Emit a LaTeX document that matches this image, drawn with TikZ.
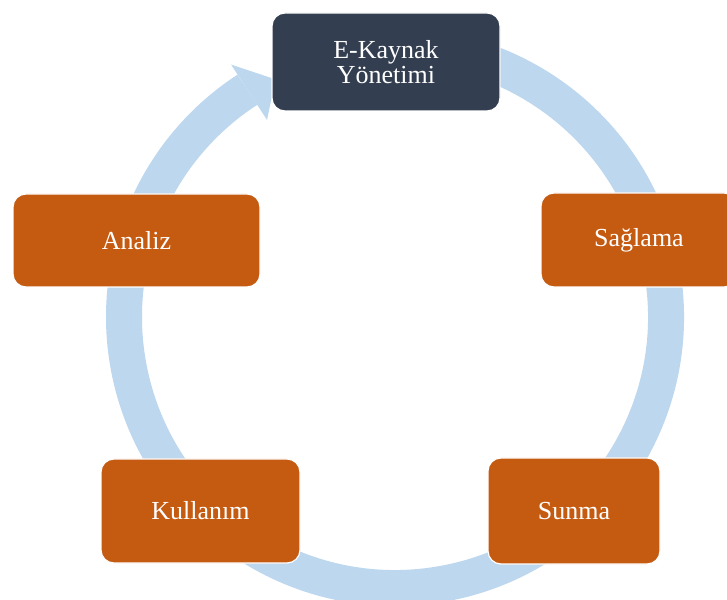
\documentclass[tikz,border=0pt]{standalone}
\usepackage{fontspec}
\setmainfont{Liberation Serif}
\definecolor{halka}{HTML}{BDD7EE}
\definecolor{turuncu}{HTML}{C55A11}
\definecolor{lacivert}{HTML}{333F50}
\begin{document}
\begin{tikzpicture}[
        x=1pt,
        y=1pt,
        line join=round,
        % stiller
        ring/.style={draw=halka, line width=36pt},
        ringhead/.style={fill=halka},
        kutu/.style={rectangle, rounded corners=13pt, fill=turuncu, draw=white,
            line width=1.2pt, text=white, align=center, inner sep=0pt,
            font=\fontsize{26}{25}\selectfont},
        ana/.style={kutu, fill=lacivert},
    ]

    % sayfa
    \clip (0,0) rectangle (727,599);

    % halka merkezi
    \coordinate (M) at (395,282);

    % halka ve ok ucu
    \begin{scope}[shift={(M)}]
        \draw[ring] (100:271) arc[start angle=100, end angle=-237, radius=271];
        \fill[ringhead] (123:235) -- (116.7:266) -- (123:301) -- cycle;
    \end{scope}

    % kutular
    \node[ana, minimum width=228pt, minimum height=98pt] (ekaynak) at (386,537) {E-Kaynak\\Yönetimi};
    \node[kutu, minimum width=247pt, minimum height=93pt] (analiz) at (136.5,358.5) {Analiz};
    \node[kutu, minimum width=196pt, minimum height=94pt] (saglama) at (639,359) {Sağlama};
    \node[kutu, minimum width=199pt, minimum height=104pt] (kullanim) at (200.5,88) {Kullanım};
    \node[kutu, minimum width=172pt, minimum height=106pt] (sunma) at (574,88) {Sunma};
\end{tikzpicture}
\end{document}
